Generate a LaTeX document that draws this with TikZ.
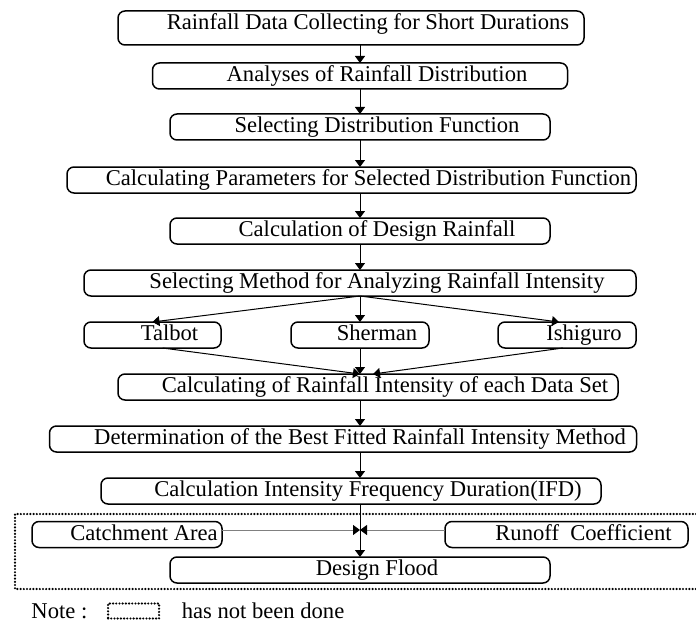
\documentclass[tikz,border=0pt]{standalone}
\usepackage{fontspec}
\setmainfont{Liberation Serif}
\usepackage{tikz}
\usetikzlibrary{positioning,arrows.meta}

\begin{document}
\begin{tikzpicture}[font=\fontsize{11.3}{13}\selectfont,>={Triangle[length=3.5pt,width=5pt]},line width=0.5pt,
  box/.style={draw,line width=0.75pt,rounded corners=3.5pt,minimum width=#1,minimum height=13pt,inner xsep=0pt,inner ysep=0pt,
    outer sep=0pt,text height=8pt,text depth=2.5pt,execute at begin node={\hspace*{17pt}}},
  dotline/.style={line width=1.2pt,dash pattern=on 0pt off 1.6pt,line cap=round}]
\useasboundingbox (0,0) rectangle (348pt,-313pt);
\coordinate (spine) at (180pt,0);
\node[box=233pt,minimum height=17pt,text depth=6pt] (collect) at (175.5pt,-14pt) {Rainfall Data Collecting for Short Durations};
\node[box=207.5pt,below=9pt of collect,xshift=4.5pt] (analyse) {Analyses of Rainfall Distribution};
\node[box=190pt,below=12.5pt of analyse] (selfunc) {Selecting Distribution Function};
\node[box=284.5pt,below=13.5pt of selfunc,xshift=-4.25pt] (params) {Calculating Parameters for Selected Distribution Function};
\node[box=190pt,below=12.5pt of params,xshift=4.25pt] (design) {Calculation of Design Rainfall};
\node[box=276pt,below=13pt of design] (selmeth) {Selecting Method for Analyzing Rainfall Intensity};
\node[box=69pt,below=13pt of selmeth] (sherman) {Sherman};
\node[box=68.5pt,left=35pt of sherman] (talbot) {Talbot};
\node[box=69pt,right=34.5pt of sherman] (ishiguro) {Ishiguro};
\node[box=250pt,below=13pt of sherman,xshift=4pt] (intensity) {Calculating of Rainfall Intensity of each Data Set};
\node[box=293.5pt,below=13pt of intensity,xshift=-12.5pt] (best) {Determination of the Best Fitted Rainfall Intensity Method};
\node[box=250pt,below=13pt of best,xshift=4pt] (ifd) {Calculation Intensity Frequency Duration(IFD)};
\node[box=190pt,below=26.5pt of ifd,xshift=4.5pt] (flood) {Design Flood};
\node[box=95pt] (catch) at (63.5pt,-267.25pt) {Catchment Area};
\node[box=121.5pt] (runoff) at (283.25pt,-267.25pt) {Runoff\ \ Coefficient};
\coordinate (join) at (180pt,-265pt);
\draw[->] (collect.south -| spine) -- (analyse.north -| spine);
\draw[->] (analyse.south -| spine) -- (selfunc.north -| spine);
\draw[->] (selfunc.south -| spine) -- (params.north -| spine);
\draw[->] (params.south -| spine) -- (design.north -| spine);
\draw[->] (design.south -| spine) -- (selmeth.north -| spine);
\draw[->] (selmeth.south -| spine) -- (talbot.north);
\draw[->] (selmeth.south -| spine) -- (sherman.north);
\draw[->] (selmeth.south -| spine) -- ([xshift=-4pt]ishiguro.north);
\draw[->] ([xshift=5pt]talbot.south) -- (intensity.north -| spine);
\draw[->] (sherman.south) -- (intensity.north -| spine);
\draw[->] ([xshift=-2pt]ishiguro.south) -- ([xshift=2.5pt]intensity.north);
\draw[->] (intensity.south -| spine) -- (best.north -| spine);
\draw[->] (best.south -| spine) -- (ifd.north -| spine);
\draw[->] (ifd.south -| spine) -- (flood.north -| spine);
\draw[gray,-{Triangle[length=3.5pt,width=5pt,black]}] (catch.east |- join) -- (join);
\draw[gray,-{Triangle[length=3.5pt,width=5pt,black]}] (runoff.west |- join) -- (join);
\draw[dotline] (348pt,-257pt) -- (7.5pt,-257pt) -- (7.5pt,-294.5pt) -- (348pt,-294.5pt);
\node[anchor=west,inner sep=0pt] (note) at (15.5pt,-305.5pt) {Note :};
\node[dotline,draw,inner sep=0pt,minimum width=25.5pt,minimum height=7.5pt,right=9.5pt of note] (legend) {};
\node[inner sep=0pt,right=10.5pt of legend] (notdone) {has not been done};
\end{tikzpicture}
\end{document}
